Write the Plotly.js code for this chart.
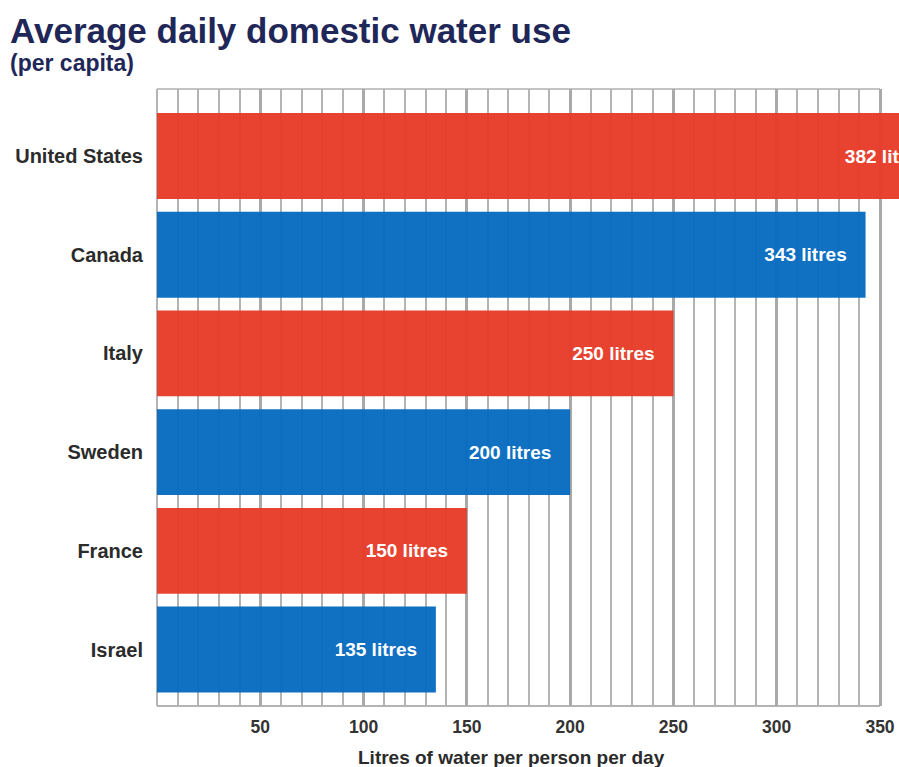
<!DOCTYPE html>
<html>
<head>
<meta charset="utf-8">
<script src="https://cdn.plot.ly/plotly-3.0.1.min.js"></script>
<style>
  html, body { margin: 0; padding: 0; background: #ffffff; }
  #chart { width: 899px; height: 767px; }
</style>
</head>
<body>
<div id="chart"></div>
<script>
// Average daily domestic water use per capita, litres per person per day
const countries = ["United States", "Canada", "Italy", "Sweden", "France", "Israel"];
const litres = [382, 343, 250, 200, 150, 135];
const barColors = ["#e63b28", "#066abf", "#e63b28", "#066abf", "#e63b28", "#066abf"];
const tickValues = [50, 100, 150, 200, 250, 300, 350];
const unitLabel = "litres";

const W = 899, H = 767;
const M = { l: 157, r: 0, t: 89, b: 61 };
const plotW = W - M.l - M.r;
const plotH = H - M.t - M.b;
const gridEnd = 350;
const xMax = 359.2;

// helpers to place free text in page pixels
const px = x => (x - M.l) / plotW;
const py = y => (H - M.b - y) / plotH;

const NAVY = "#1f2759";
const GRID = "#b4b4b4";
const FONT = "Liberation Sans, Arial, sans-serif";

const trace = {
  type: "bar",
  orientation: "h",
  x: litres,
  y: countries,
  width: 0.87,
  marker: { color: barColors, opacity: 0.96, line: { width: 0 } },
  text: litres.map(v => v + " " + unitLabel + "\u00A0\u00A0\u00A0"),
  textposition: "inside",
  insidetextanchor: "end",
  textangle: 0,
  constraintext: "none",
  insidetextfont: { family: FONT, size: 19, color: "#ffffff", weight: 700 },
  cliponaxis: true,
  hoverinfo: "skip"
};

const layout = {
  width: W,
  height: H,
  margin: M,
  paper_bgcolor: "#ffffff",
  plot_bgcolor: "#ffffff",
  showlegend: false,
  font: { family: FONT },
  xaxis: {
    range: [0, xMax],
    tickvals: tickValues,
    ticktext: tickValues.map(String),
    ticks: "",
    ticklabelstandoff: 8,
    tickfont: { family: FONT, size: 17.5, color: "#333333", weight: 700 },
    showgrid: true,
    gridcolor: "#a9a9a9",
    gridwidth: 3,
    minor: { dtick: 10, tick0: 0, showgrid: true, gridcolor: GRID, gridwidth: 2, ticks: "" },
    zeroline: true,
    zerolinecolor: GRID,
    zerolinewidth: 2,
    showline: false,
    fixedrange: true
  },
  yaxis: {
    type: "category",
    categoryorder: "array",
    categoryarray: countries,
    range: [5.572, -0.679],
    ticks: "",
    ticklabelstandoff: 13,
    tickfont: { family: FONT, size: 20, color: "#2b2b2b", weight: 700 },
    showgrid: false,
    zeroline: false,
    showline: false,
    fixedrange: true
  },
  shapes: [
    { type: "line", xref: "x", yref: "paper", x0: 0, x1: gridEnd, y0: 1, y1: 1,
      line: { color: "#c4c4c4", width: 2 }, layer: "below" },
    { type: "line", xref: "x", yref: "paper", x0: 0, x1: gridEnd, y0: 0, y1: 0,
      line: { color: GRID, width: 2 }, layer: "below" }
  ],
  annotations: [
    { text: "<b>Average daily domestic water use</b>", xref: "paper", yref: "paper",
      x: px(8), y: py(30), xanchor: "left", yanchor: "middle", showarrow: false,
      font: { family: FONT, size: 35, color: NAVY } },
    { text: "<b>(per capita)</b>", xref: "paper", yref: "paper",
      x: px(8), y: py(63), xanchor: "left", yanchor: "middle", showarrow: false,
      font: { family: FONT, size: 23, color: NAVY } },
    { text: "<b>Litres of water per person per day</b>", xref: "paper", yref: "paper",
      x: px(511), y: py(757), xanchor: "center", yanchor: "middle", showarrow: false,
      font: { family: FONT, size: 19, color: "#2b2b2b" } }
  ]
};

Plotly.newPlot("chart", [trace], layout, { staticPlot: true, displayModeBar: false });
</script>
</body>
</html>
